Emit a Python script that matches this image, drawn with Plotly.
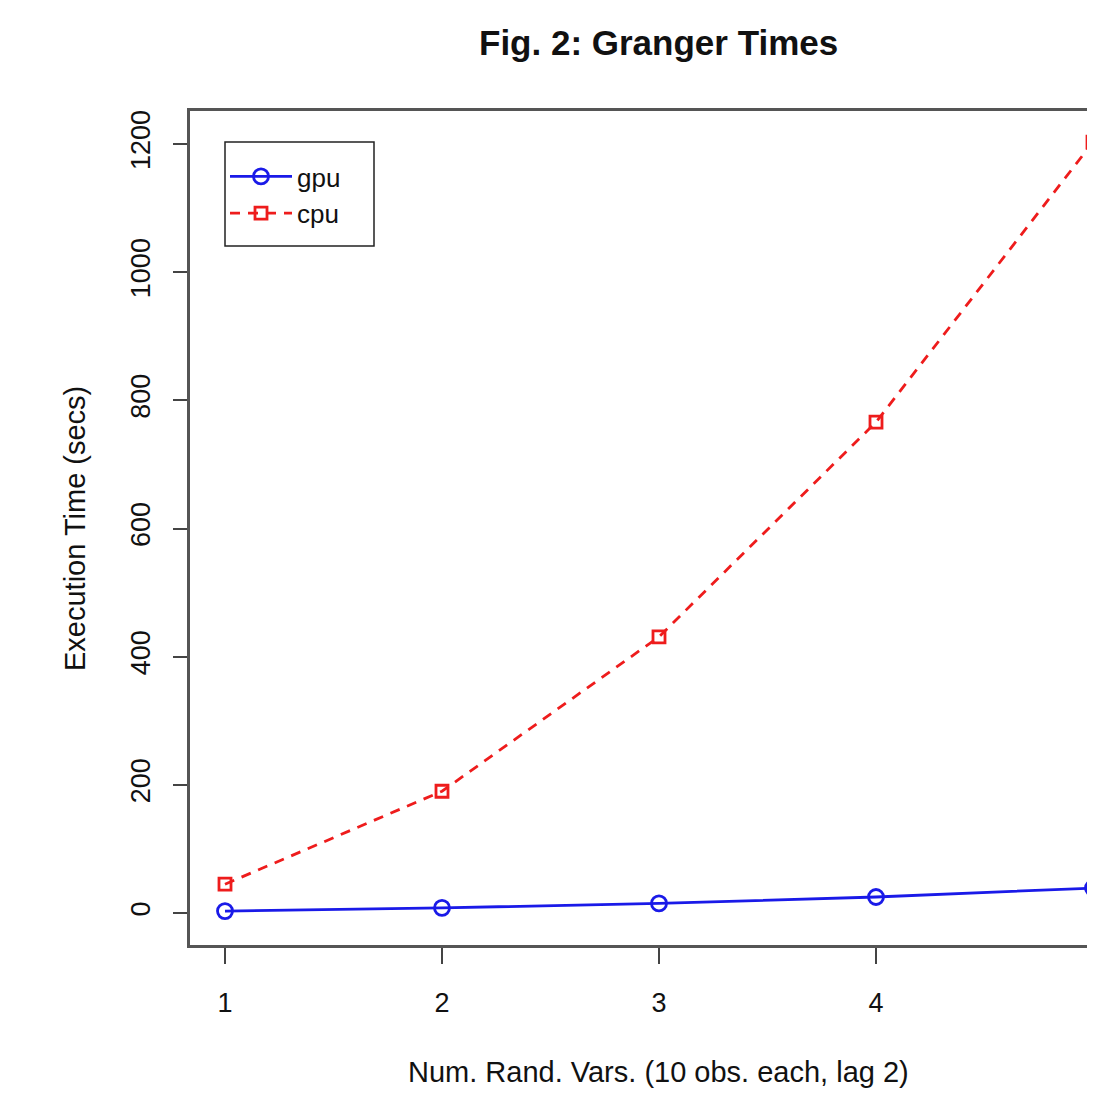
import plotly.graph_objects as go

x_vals = [1, 2, 3, 4, 5]
gpu_times = [3, 8, 15, 25, 39]
cpu_times = [45, 190, 431, 766, 1203]
y_ticks = [0, 200, 400, 600, 800, 1000, 1200]

FONT = "Liberation Sans, Arial, Helvetica, sans-serif"
OFF = 8  # page body margin

fig = go.Figure()
fig.add_trace(go.Scatter(
    x=x_vals, y=gpu_times, name="gpu", mode="lines+markers",
    line=dict(color="#1a1ae8", width=2.8),
    marker=dict(symbol="circle-open", size=15, color="#1a1ae8", line=dict(width=2.8)),
))
fig.add_trace(go.Scatter(
    x=x_vals, y=cpu_times, name="cpu", mode="lines+markers",
    line=dict(color="#ee1c1c", width=2.8, dash="10px,8px"),
    marker=dict(symbol="square-open", size=12, color="#ee1c1c", line=dict(width=2.8)),
))

# page-pixel geometry of the reference
P_LEFT, P_TOP, P_BOTTOM, P_RIGHT = 190, 111, 945, 1095
L = P_LEFT - OFF
T = P_TOP - OFF
W = P_RIGHT - OFF
H = 1082
B = H - (P_BOTTOM - OFF)
plot_w = W - L
plot_h = H - T - B
px_per_unit = 217.0
x0 = 1 - (225 - P_LEFT) / px_per_unit
x1 = x0 + plot_w / px_per_unit


def px(xp):
    return (xp - P_LEFT) / plot_w


def py(yp):
    return (P_BOTTOM - yp) / plot_h


fig.update_layout(
    width=W, height=H,
    margin=dict(l=L, r=0, t=T, b=B, pad=0),
    paper_bgcolor="white", plot_bgcolor="white",
    font=dict(family=FONT, size=27, color="#111"),
    showlegend=True,
    legend=dict(
        x=px(225), y=py(153),
        xanchor="left", yanchor="top",
        borderwidth=0, bgcolor="rgba(0,0,0,0)",
        font=dict(size=26, family=FONT, color="#111"),
        itemwidth=62, tracegroupgap=0,
    ),
    shapes=[
        dict(type="rect", xref="paper", yref="paper",
             x0=px(225), x1=px(374), y0=py(246), y1=py(142),
             line=dict(color="#222", width=1.5), fillcolor="rgba(0,0,0,0)", layer="above"),
    ],
    xaxis=dict(
        range=[x0, x1], tickvals=x_vals, ticktext=[str(v) for v in x_vals],
        showgrid=False, zeroline=False,
        showline=True, mirror=True, linecolor="#555", linewidth=2.5,
        ticks="outside", ticklen=16, tickwidth=2, tickcolor="#444",
        ticklabelstandoff=16, tickfont=dict(size=27, family=FONT, color="#111"),
    ),
    yaxis=dict(
        range=[-49.9, 1251.5], tickvals=y_ticks, ticktext=[str(v) for v in y_ticks],
        showgrid=False, zeroline=False,
        showline=True, linecolor="#555", linewidth=2.5,
        ticks="outside", ticklen=14, tickwidth=2, tickcolor="#444",
        tickangle=-90, ticklabelstandoff=12,
        tickfont=dict(size=27, family=FONT, color="#111"),
    ),
    annotations=[
        dict(text="<b>Fig. 2: Granger Times</b>", xref="paper", yref="paper",
             x=px(658), y=py(42),
             xanchor="center", yanchor="middle", showarrow=False,
             font=dict(size=35, family=FONT, color="#111")),
        dict(text="Num. Rand. Vars. (10 obs. each, lag 2)", xref="paper", yref="paper",
             x=px(658), y=py(1072),
             xanchor="center", yanchor="middle", showarrow=False,
             font=dict(size=29, family=FONT, color="#111")),
        dict(text="Execution Time (secs)", xref="paper", yref="paper",
             x=px(75), y=py(528),
             xanchor="center", yanchor="middle", showarrow=False, textangle=-90,
             font=dict(size=29, family=FONT, color="#111")),
    ],
)

fig.write_html("out.html")
